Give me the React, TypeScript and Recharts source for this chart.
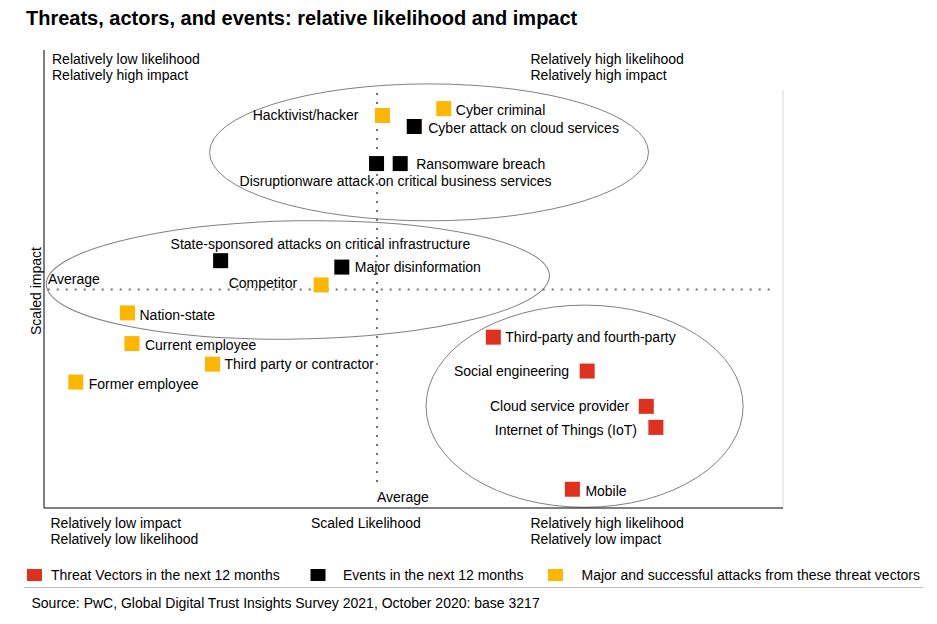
import React from "react";
import {
  ScatterChart,
  Scatter,
  XAxis,
  YAxis,
  ReferenceLine,
  ReferenceArea,
} from "recharts";

const FONT = '"Liberation Sans", Arial, sans-serif';

// Threat vectors in the next 12 months (red)
const threatNames = [
  "Third-party and fourth-party",
  "Social engineering",
  "Cloud service provider",
  "Internet of Things (IoT)",
  "Mobile",
];
const threatLikelihood = [60.8, 73.5, 81.5, 82.8, 71.5];
const threatImpact = [37.3, 29.9, 22.2, 17.6, 4.1];

// Events in the next 12 months (black)
const eventNames = [
  "Cyber attack on cloud services",
  "Disruptionware attack on critical business services",
  "Ransomware breach",
  "State-sponsored attacks on critical infrastructure",
  "Major disinformation",
];
const eventLikelihood = [50.1, 45.0, 48.2, 23.9, 40.3];
const eventImpact = [83.3, 75.2, 75.2, 54.0, 52.6];

// Major and successful attacks from these threat vectors (yellow)
const attackNames = [
  "Hacktivist/hacker",
  "Cyber criminal",
  "Competitor",
  "Nation-state",
  "Current employee",
  "Third party or contractor",
  "Former employee",
];
const attackLikelihood = [45.8, 54.1, 37.5, 11.3, 11.9, 22.8, 4.3];
const attackImpact = [85.7, 87.2, 48.7, 42.6, 35.9, 31.4, 27.5];

// averages (dotted cross)
const avgLikelihood = 45.06;
const avgImpact = 47.7;

// groups circled on the chart: [from, to] in scaled units
const groupLikelihood = [
  [22.4, 81.8],
  [0.3, 68.4],
  [51.7, 94.6],
];
const groupImpact = [
  [62.7, 92.6],
  [36.9, 62.7],
  [0.15, 44.3],
];
const groupTilt = [0, -1, 0];

const legendLabels = [
  "Threat Vectors in the next 12 months",
  "Events in the next 12 months",
  "Major and successful attacks from these threat vectors",
];

const RED = "#e0301e";
const BLACK = "#000000";
const YELLOW = "#ffb600";

type Placement = { anchor: "start" | "end" | "middle"; dx: number; dy: number };

// where each point's label sits relative to its square
const labelPlacement: Record<string, Placement> = {
  "Hacktivist/hacker": { anchor: "end", dx: -24, dy: 0 },
  "Cyber criminal": { anchor: "start", dx: 12, dy: 1 },
  Competitor: { anchor: "end", dx: -24, dy: -2 },
  "Nation-state": { anchor: "start", dx: 12, dy: 2 },
  "Current employee": { anchor: "start", dx: 13, dy: 1 },
  "Third party or contractor": { anchor: "start", dx: 12, dy: 0 },
  "Former employee": { anchor: "start", dx: 13, dy: 2 },
  "Cyber attack on cloud services": { anchor: "start", dx: 14, dy: 2 },
  "Disruptionware attack on critical business services": { anchor: "middle", dx: 19, dy: 17 },
  "Ransomware breach": { anchor: "start", dx: 16, dy: 0 },
  "State-sponsored attacks on critical infrastructure": { anchor: "start", dx: -50, dy: -17 },
  "Major disinformation": { anchor: "start", dx: 13, dy: 0 },
  "Third-party and fourth-party": { anchor: "start", dx: 12, dy: 0 },
  "Social engineering": { anchor: "end", dx: -18, dy: 0 },
  "Cloud service provider": { anchor: "end", dx: -17, dy: 0 },
  "Internet of Things (IoT)": { anchor: "end", dx: -19, dy: 3 },
  Mobile: { anchor: "start", dx: 13, dy: 2 },
};

const toPoints = (names: string[], xs: number[], ys: number[]) =>
  names.map((name, i) => ({ name, x: xs[i], y: ys[i] }));

const threats = toPoints(threatNames, threatLikelihood, threatImpact);
const events = toPoints(eventNames, eventLikelihood, eventImpact);
const attacks = toPoints(attackNames, attackLikelihood, attackImpact);

const SQ = 15;

const makeSquare = (color: string) => (props: any) => {
  const { cx, cy, payload } = props;
  const p = labelPlacement[payload.name] || { anchor: "start", dx: 12, dy: 0 };
  return (
    <g>
      <rect x={cx - SQ / 2} y={cy - SQ / 2} width={SQ} height={SQ} fill={color} />
      <text
        x={cx + p.dx}
        y={cy + p.dy}
        textAnchor={p.anchor}
        dominantBaseline="central"
        fontSize={14}
        fontFamily={FONT}
        fill="#000"
      >
        {payload.name}
      </text>
    </g>
  );
};

const makeEllipse = (tilt: number) => (props: any) => {
  const { x, y, width, height } = props;
  const cx = x + width / 2;
  const cy = y + height / 2;
  return (
    <ellipse
      cx={cx}
      cy={cy}
      rx={width / 2}
      ry={height / 2}
      transform={`rotate(${tilt} ${cx} ${cy})`}
      fill="none"
      stroke="#808080"
      strokeWidth={1}
    />
  );
};

const txt = { fontSize: 14, fontFamily: FONT, fill: "#000" };

export default function App() {
  return (
    <div style={{ position: "absolute", left: 0, top: 0, width: 937, height: 624, background: "#fff" }}>
      <ScatterChart
        width={937}
        height={624}
        margin={{ top: 50, right: 154, bottom: 116, left: 44 }}
      >
        <XAxis type="number" dataKey="x" domain={[0, 100]} hide />
        <YAxis type="number" dataKey="y" domain={[0, 100]} hide />
        {groupLikelihood.map((gx, i) => (
          <ReferenceArea
            key={i}
            x1={gx[0]}
            x2={gx[1]}
            y1={groupImpact[i][0]}
            y2={groupImpact[i][1]}
            ifOverflow="visible"
            shape={makeEllipse(groupTilt[i])}
          />
        ))}
        <ReferenceLine
          segment={[{ x: avgLikelihood, y: 90.6 }, { x: avgLikelihood, y: 4.6 }]}
          stroke="#707070"
          strokeWidth={2}
          strokeDasharray="2 7"
        />
        <ReferenceLine
          segment={[{ x: 0.5, y: avgImpact }, { x: 99, y: avgImpact }]}
          stroke="#707070"
          strokeWidth={2}
          strokeDasharray="2 7"
        />
        <ReferenceLine
          segment={[{ x: 100, y: 91.3 }, { x: 100, y: 0 }]}
          stroke="#d9d9d9"
        />
        <ReferenceLine x={0} stroke="#000" />
        <ReferenceLine y={0} stroke="#000" />
        <Scatter name="Major and successful attacks from these threat vectors" data={attacks} shape={makeSquare(YELLOW)} isAnimationActive={false} />
        <Scatter name="Events in the next 12 months" data={events} shape={makeSquare(BLACK)} isAnimationActive={false} />
        <Scatter name="Threat Vectors in the next 12 months" data={threats} shape={makeSquare(RED)} isAnimationActive={false} />
      </ScatterChart>

      <svg
        width={937}
        height={624}
        style={{ position: "absolute", left: 0, top: 0, pointerEvents: "none" }}
      >
        <text x={26} y={25} fontSize={20} fontWeight="bold" fontFamily={FONT} fill="#000">
          Threats, actors, and events: relative likelihood and impact
        </text>

        <text x={52} y={63.5} {...txt}>Relatively low likelihood</text>
        <text x={52} y={80} {...txt}>Relatively high impact</text>
        <text x={530.5} y={63.5} {...txt}>Relatively high likelihood</text>
        <text x={530.5} y={80} {...txt}>Relatively high impact</text>

        <text x={48} y={283.5} {...txt}>Average</text>
        <text x={377} y={502} {...txt}>Average</text>
        <text x={41} y={291} textAnchor="middle" transform="rotate(-90 41 291)" {...txt}>
          Scaled impact
        </text>

        <text x={50.5} y={527.5} {...txt}>Relatively low impact</text>
        <text x={50.5} y={544} {...txt}>Relatively low likelihood</text>
        <text x={311} y={527.5} {...txt}>Scaled Likelihood</text>
        <text x={530.5} y={527.5} {...txt}>Relatively high likelihood</text>
        <text x={530.5} y={544} {...txt}>Relatively low impact</text>

        <rect x={27} y={569} width={15} height={12} fill={RED} />
        <text x={51} y={580} {...txt}>{legendLabels[0]}</text>
        <rect x={310.5} y={569} width={15} height={12} fill={BLACK} />
        <text x={343} y={580} {...txt}>{legendLabels[1]}</text>
        <rect x={548} y={569} width={15} height={12} fill={YELLOW} />
        <text x={581.5} y={580} {...txt}>{legendLabels[2]}</text>

        <line x1={24} x2={923} y1={587.5} y2={587.5} stroke="#c0c0c0" strokeWidth={1} />
        <text x={31.5} y={608} {...txt}>
          Source: PwC, Global Digital Trust Insights Survey 2021, October 2020: base 3217
        </text>
      </svg>
    </div>
  );
}
